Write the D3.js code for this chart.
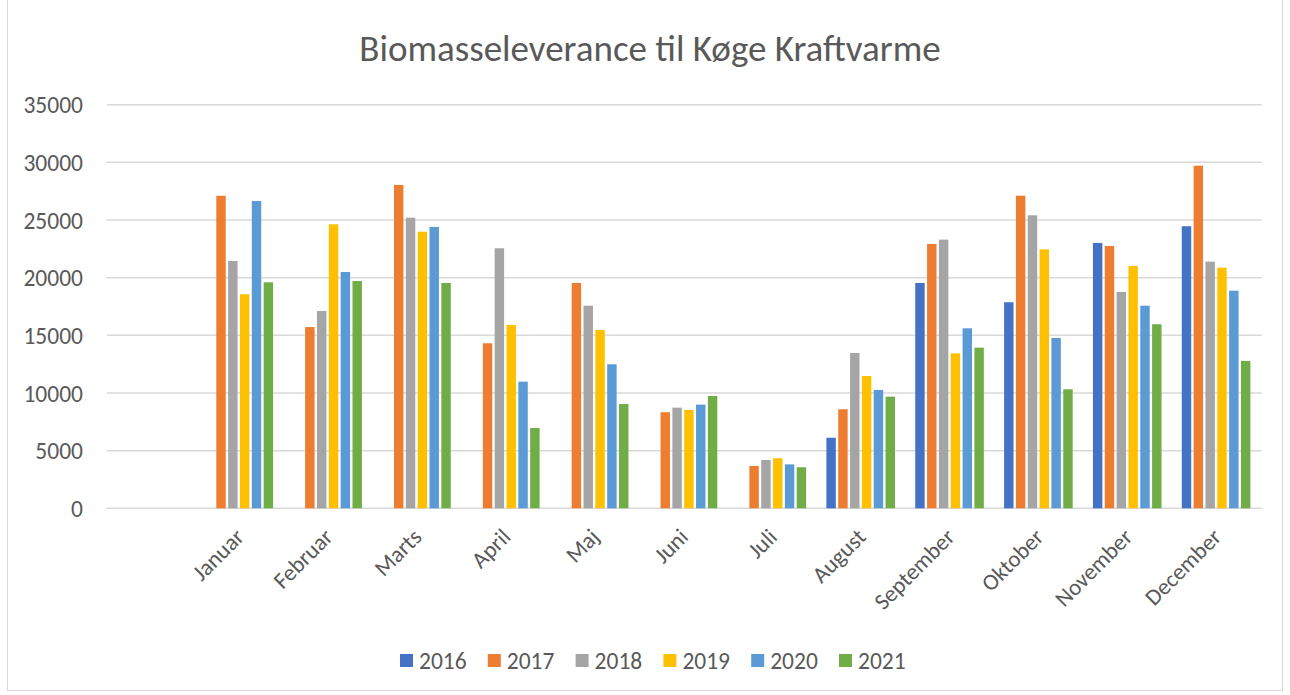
<!DOCTYPE html>
<html><head><meta charset="utf-8">
<script src="https://cdn.jsdelivr.net/npm/d3@7"></script>
<style>body{margin:0;background:#fff}svg{display:block}</style>
</head><body>
<svg id="c" width="1290" height="695"></svg>
<script>
const categories = ["", "Januar","Februar","Marts","April","Maj","Juni","Juli","August","September","Oktober","November","December"];
const seriesNames = ["2016","2017","2018","2019","2020","2021"];
const colors = ["#4472C4","#ED7D31","#A5A5A5","#FFC000","#5B9BD5","#70AD47"];
const v2016 = [null,null,null,null,null,null,null,null,6120,19540,17870,23010,24460];
const v2017 = [null,27100,15720,28040,14310,19540,8330,3670,8590,22920,27110,22750,29710];
const v2018 = [null,21450,17110,25200,22550,17570,8730,4190,13470,23300,25410,18760,21390];
const v2019 = [null,18560,24630,23990,15900,15460,8530,4340,11470,13440,22460,21010,20870];
const v2020 = [null,26650,20490,24400,10980,12490,8990,3810,10260,15610,14770,17570,18870];
const v2021 = [null,19600,19710,19540,6960,9050,9740,3560,9680,13930,10320,15960,12780];
const yTicks = [0,5000,10000,15000,20000,25000,30000,35000];
const title = "Biomasseleverance til Køge Kraftvarme";

(function(){
const series = [v2016,v2017,v2018,v2019,v2020,v2021];
const svg = d3.select("#c");
const font = "Calibri, Carlito, 'Open Sans', sans-serif";
const txt = "#595959";

svg.append("rect").attr("x",7.5).attr("y",-1).attr("width",1275).attr("height",691.5)
  .attr("fill","#fff").attr("stroke","#d9d9d9").attr("stroke-width",1);

const pl = 106.7, pr = 1261.7, pt = 104.7, pb = 508.3;
const x0 = d3.scaleBand().domain(categories.map((d,i)=>i)).range([pl,pr]).padding(0);
const bw = x0.bandwidth();
const groupW = 71;
const x1 = d3.scaleBand().domain(seriesNames).range([(bw-groupW)/2,(bw+groupW)/2]).padding(0);
const y = d3.scaleLinear().domain([0,35000]).range([pb,pt]);

svg.append("g").selectAll("line").data(yTicks).join("line")
  .attr("x1",pl).attr("x2",pr).attr("y1",d=>y(d)).attr("y2",d=>y(d))
  .attr("stroke","#d9d9d9").attr("stroke-width",1.5);

const yAxis = d3.axisLeft(y).tickValues(yTicks).tickSize(0).tickPadding(0).tickFormat(d3.format("d"));
const ya = svg.append("g").attr("transform",`translate(83,0)`).call(yAxis);
ya.select(".domain").remove();
ya.selectAll("text").attr("fill",txt).style("font-family",font).style("font-size","23.5px").attr("dy","0.35em");

const g = svg.append("g");
categories.forEach((c,ci)=>{
  series.forEach((s,si)=>{
    const v = s[ci];
    if (v==null) return;
    g.append("rect")
      .attr("x",x0(ci)+x1(seriesNames[si]))
      .attr("y",y(v))
      .attr("width",x1.bandwidth()-2.4)
      .attr("height",y(0)-y(v))
      .attr("fill",colors[si]);
  });
});

const xl = svg.append("g");
categories.forEach((c,ci)=>{
  if(!c) return;
  const cx = x0(ci)+bw/2;
  xl.append("text").attr("transform",`translate(${cx-6},${527}) rotate(-45)`)
    .attr("text-anchor","end").attr("dy","0.7em")
    .attr("fill",txt).style("font-family",font).style("font-size","23px").text(c);
});

svg.append("text").attr("x",650).attr("y",61).attr("text-anchor","middle")
  .attr("fill",txt).style("font-family",font).style("font-size","37px").text(title);

const lg = svg.append("g");
seriesNames.forEach((n,i)=>{
  const lx = 400 + i*87.8;
  lg.append("rect").attr("x",lx).attr("y",654).attr("width",13).attr("height",13).attr("fill",colors[i]);
  lg.append("text").attr("x",lx+19).attr("y",661).attr("dy","0.35em").attr("fill",txt)
    .style("font-family",font).style("font-size","23.5px").text(n);
});
})();
</script>
</body></html>
